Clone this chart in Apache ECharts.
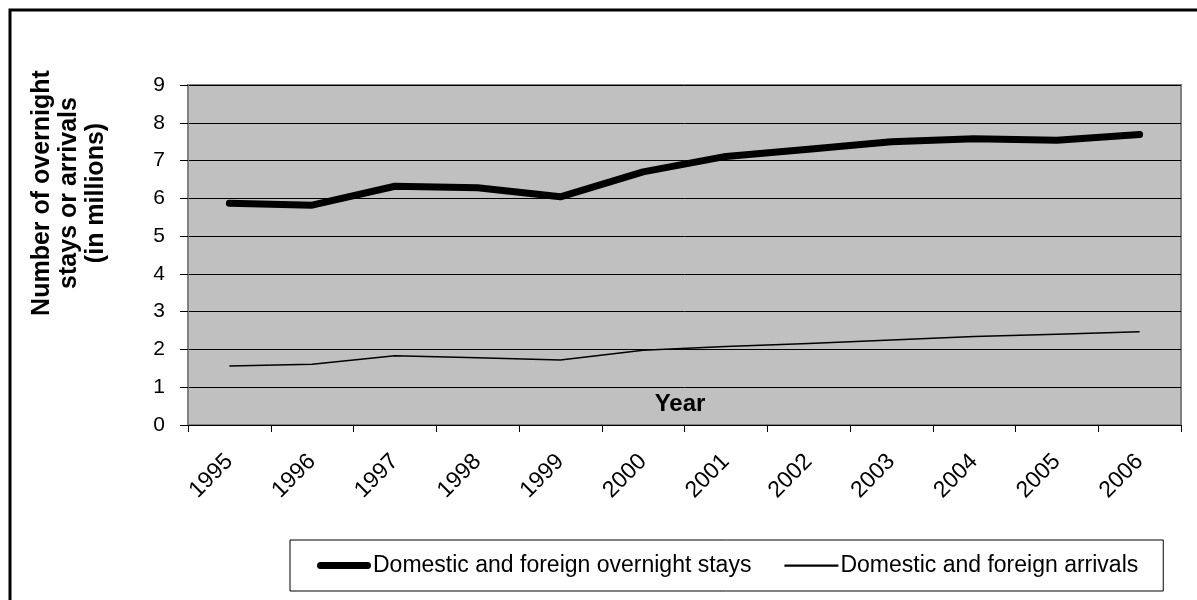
<!DOCTYPE html>
<html>
<head>
<meta charset="utf-8">
<script src="https://cdn.jsdelivr.net/npm/echarts@6/dist/echarts.min.js"></script>
<style>
html,body{margin:0;padding:0;background:#fff;}
#c{width:1197px;height:600px;}
</style>
</head>
<body>
<div id="c"></div>
<script>
var years = ['1995','1996','1997','1998','1999','2000','2001','2002','2003','2004','2005','2006'];
var overnightStays = [5.87, 5.82, 6.32, 6.28, 6.04, 6.70, 7.11, 7.30, 7.50, 7.58, 7.54, 7.69];
var arrivals = [1.56, 1.61, 1.83, 1.78, 1.72, 1.98, 2.08, 2.16, 2.25, 2.34, 2.40, 2.47];
var yTicks = [0,1,2,3,4,5,6,7,8,9];
var seriesNames = ['Domestic and foreign overnight stays', 'Domestic and foreign arrivals'];
var yTitle = 'Number of overnight\nstays or arrivals\n(in millions)';
var xTitle = 'Year';

var chart = echarts.init(document.getElementById('c'));
var FONT = 'Liberation Sans, Arial, sans-serif';
chart.setOption({
  animation: false,
  backgroundColor: '#ffffff',
  grid: {
    left: 188, top: 85, right: 16, bottom: 175,
    show: true, backgroundColor: '#c0c0c0', borderColor: '#808080', borderWidth: 2
  },
  graphic: [
    { type: 'rect', shape: { x: 10, y: 10, width: 1300, height: 700 },
      style: { fill: 'none', stroke: '#000', lineWidth: 3 }, silent: true, z: 0 },
    { type: 'text', x: 69, y: 193, rotation: Math.PI / 2,
      style: { text: yTitle, font: 'bold 25px ' + FONT, fill: '#000',
        textAlign: 'center', textVerticalAlign: 'middle', lineHeight: 27 } },
    { type: 'text', x: 680, y: 404, z: 10,
      style: { text: xTitle, font: 'bold 24px ' + FONT, fill: '#000',
        textAlign: 'center', textVerticalAlign: 'middle' } }
  ],
  legend: {
    data: [
      { name: seriesNames[0], icon: 'path://M3.5,0H50.5A3.5,3.5 0 0 1 50.5,7H3.5A3.5,3.5 0 0 1 3.5,0Z' },
      { name: seriesNames[1], icon: 'path://M0,0H48V2H0Z' }
    ],
    left: 290, top: 540,
    padding: [14, 25, 14, 27],
    itemWidth: 54, itemHeight: 14, itemGap: 33,
    symbolKeepAspect: true,
    borderColor: '#000', borderWidth: 1,
    itemStyle: { color: '#000', borderWidth: 0 },
    textStyle: { fontFamily: FONT, fontSize: 23, color: '#000', padding: [0,0,0,-3] }
  },
  xAxis: {
    type: 'category', data: years, boundaryGap: true,
    axisLine: { show: true, lineStyle: { color: '#000', width: 1 } },
    axisTick: { show: true, length: 7, lineStyle: { color: '#000' } },
    axisLabel: { rotate: 45, fontFamily: FONT, fontSize: 23, color: '#000', margin: 33 },
    splitLine: { show: false }
  },
  yAxis: {
    type: 'value', min: 0, max: 9, interval: 1,
    axisLine: { show: true, lineStyle: { color: '#808080', width: 2 } },
    axisTick: { show: true, length: 8, lineStyle: { color: '#000' } },
    axisLabel: { fontFamily: FONT, fontSize: 21, color: '#000', margin: 23,
      formatter: function (v) { return yTicks.indexOf(v) >= 0 ? String(v) : ''; } },
    splitLine: { show: true, lineStyle: { color: '#000', width: 1 } }
  },
  series: [
    { name: seriesNames[0], type: 'line', data: overnightStays, symbol: 'none',
      lineStyle: { color: '#000', width: 7, cap: 'round', join: 'round' }, itemStyle: { color: '#000' } },
    { name: seriesNames[1], type: 'line', data: arrivals, symbol: 'none',
      lineStyle: { color: '#000', width: 1.5, join: 'round' }, itemStyle: { color: '#000' } }
  ]
});
</script>
</body>
</html>
